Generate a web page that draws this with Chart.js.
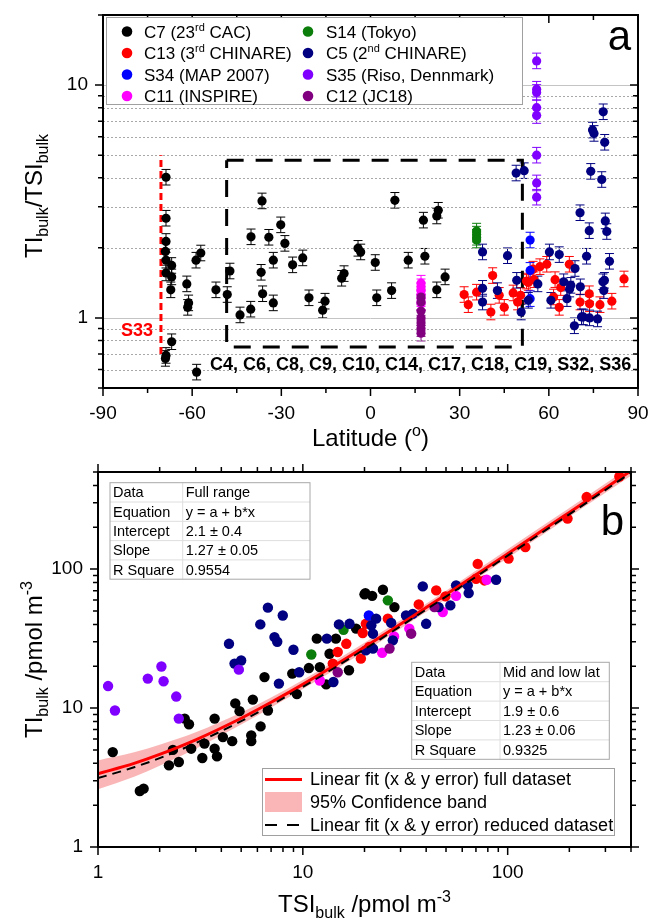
<!DOCTYPE html>
<html>
<head>
<meta charset="utf-8">
<script src="https://cdn.jsdelivr.net/npm/chart.js@4.4.1/dist/chart.umd.min.js"></script>
<style>
  html, body { margin: 0; padding: 0; background: #fff; }
  #wrap { position: relative; width: 651px; height: 919px; }
  canvas { position: absolute; left: 0; }
  #chartA { top: 0; }
  #chartB { top: 460px; }
</style>
</head>
<body>
<div id="wrap">
  <canvas id="chartA" width="651" height="460"></canvas>
  <canvas id="chartB" width="651" height="459"></canvas>
</div>
<script>
const FONT = '"Liberation Sans", Arial, Helvetica, sans-serif';
Chart.defaults.font.family = FONT;
Chart.defaults.color = '#000';

// ---------- panel a : TI/TSI ratio vs latitude ----------
const c7Lat = [-68.8,-68.8,-68.8,-69.0,-68.8,-68.8,-66.9,-66.9,-67.2,-66.9,-68.8,-69.0,-61.8,-61.2,-61.5,-58.7,-57.1,-58.5,-52.0,-48.2,-47.3,-43.9,-40.3,-40.2,-36.5,-36.8,-36.3,-34.2,-32.7,-32.7,-30.2,-28.8,-26.2,-22.8,-20.7,-16.1,-15.3,-9.7,-8.9,-4.2,-3.3,1.6,2.1,7.1,8.2,12.7,17.8,18.3,22.3,22.8,22.3,25.1];
const c7Ratio = [4.02,2.68,2.13,1.93,1.77,1.56,1.68,1.50,1.32,0.79,0.69,0.67,1.40,1.16,1.11,1.77,1.90,0.585,1.32,1.26,1.59,1.03,1.09,2.23,3.18,1.57,1.27,2.22,1.77,1.16,2.51,2.09,1.69,1.81,1.22,1.08,1.18,1.48,1.55,1.99,1.92,1.73,1.22,1.31,3.2,1.77,2.63,1.84,2.74,2.9,1.32,1.50];
const c13Lat = [31.5,32.9,35.7,40.5,41.1,43.3,45.0,48.0,49.5,50.5,52.5,53.1,54.7,55.0,57.0,59.3,61.6,62.1,63.5,64.0,66.9,70.5,73.6,73.7,77.2,81.2,85.3];
const c13Ratio = [1.26,1.14,1.29,1.06,1.52,1.25,1.11,1.28,1.17,1.25,1.44,1.42,1.62,1.46,1.66,1.70,1.23,1.46,1.11,1.35,1.70,1.17,1.27,1.15,1.14,1.18,1.47];
const s34Lat = [53.7,53.7,53.7];
const s34Ratio = [2.16,1.60,1.21];
const c11Lat = [17.0,17.0,17.0,17.0,17.0,17.0];
const c11Ratio = [1.41,1.36,1.31,1.26,1.21,1.16];
const s14Lat = [35.7,35.7,35.7,35.7];
const s14Ratio = [2.36,2.29,2.22,2.16];
const c5Lat = [37.7,37.7,37.7,42.7,46.1,49.0,51.7,49.2,50.7,53.1,56.3,60.2,63.5,60.7,65.0,66.1,67.0,67.4,68.8,68.6,70.5,70.6,71.0,71.6,72.7,73.6,73.7,76.4,74.1,77.8,79.0,79.5,80.4,78.2,78.7,78.5,78.3,74.7,75.2,78.8];
const c5Ratio = [1.92,1.34,1.17,1.31,1.85,4.19,4.29,1.45,1.06,1.19,1.40,1.92,1.87,1.19,1.43,1.21,1.33,1.38,1.63,0.925,2.83,1.36,1.01,1.01,1.84,2.37,1.00,0.99,4.26,3.93,2.61,2.35,1.75,1.43,1.45,1.31,7.68,6.41,6.2,5.68];
const s35Lat = [55.9,55.9,55.9,55.9,55.9,55.9,55.9,55.9];
const s35Ratio = [12.7,9.6,9.3,8.0,7.4,5.0,3.8,3.3];
const c12Lat = [17.0,17.0,17.0,17.0,17.0,17.0,17.0];
const c12Ratio = [1.23,1.17,1.07,1.00,0.95,0.90,0.86];

const s33Lat = [-70.5,-70.5];
const s33Ratio = [0.70,5.0];
const boxLat = [-48.4,51.1,51.1,-48.4,-48.4];
const boxRatio = [4.75,4.75,0.75,0.75,4.75];

const latTicks = [-90,-75,-60,-45,-30,-15,0,15,30,45,60,75,90];
const latLabels = [-90,-60,-30,0,30,60,90];
const ratioTicks = [0.5,0.6,0.7,0.8,0.9,1,2,3,4,5,6,7,8,9,10,20];
const ratioLabels = [1,10];

// ---------- panel b : TI vs TSI ----------
const c7Tsi = [1.18,1.6,1.67,2.22,2.32,2.48,2.65,2.78,2.85,3.23,3.31,3.71,3.81,3.71,4.07,4.52,4.68,4.91,5.6,5.6,5.7,6.22,6.75,6.5,8.88,9.35,10.7,11.7,12.1,13.5,13.0,14.5,16.8,18.2,20.0,20.2,21.8,24.6,28.0];
const c7Ti = [4.82,2.53,2.63,3.87,5.0,4.09,8.4,7.64,5.1,4.37,5.55,5.1,4.49,8.4,6.18,5.78,10.8,9.5,6.36,5.78,11.5,7.38,9.6,16.7,17.7,12.6,19.4,31.6,19.7,24.6,14.8,31.6,18.7,37.3,65.8,67.2,64.2,71.0,53.3];
const c13Tsi = [351,243,196,122,101,71.4,70.1,77,44.8,49.7,36.8,26,19.2,14.8,16.3,21.1,14,19.6,20.3];
const c13Ti = [464,330,231,144,119,109,85.3,82.9,70.3,63.7,55.7,44,22.7,25.3,29,27.5,20.9,34.7,40.4];
const s34Tsi = [21];
const s34Ti = [46.4];
const c11Tsi = [79,56,48.2,33.1,24.4,12.1,27.9];
const c11Ti = [83.9,64.2,49.1,37.3,25,15.8,32.8];
const s14Tsi = [11,15.8,26];
const s14Ti = [24.3,36.6,59.6];
const c5Tsi = [6.2,6.75,7.98,7.27,7.5,4.36,4.64,5.0,9.0,7.64,9.6,13.1,14.1,15,16.9,22,20.3,38.5,56,63.8,64.5,52.5,46,31.9,34.4,40,22.8,21.6,22,27,27.5,87.8];
const c5Ti = [40,52.8,46.4,32.4,30,29,20.9,22,26.3,15,18.1,31.6,15.4,40,40.4,26.8,26,75.1,76.4,76.4,67.2,54.8,53.3,46.4,47.6,40.4,44,39.4,34.3,41,30.7,83.9];
const s35Tsi = [1.12,1.21,1.75,2.04,2.09,2.41,2.48,4.87];
const s35Ti = [14.4,9.6,16.3,19.9,15.6,12.1,8.4,18.9];
const c12Tsi = [43.9,33.8,26.5,14.8];
const c12Ti = [53.3,34.3,26.8,18.1];

// fit lines and confidence band
const fitTsi = [1,1.5,2,3,5,7,10,20,50,100,200,400];
const fitFull = [3.37,4.0,4.64,5.91,8.45,11.0,14.8,27.5,65.6,129,256,510];
const fitReduced = [3.13,3.75,4.36,5.59,8.05,10.5,14.2,26.5,63.4,125,248,494];
const bandLo = [2.6,3.2,3.85,5.1,7.6,10.1,13.7,25.5,61,120,238,470];
const bandHi = [4.2,4.8,5.45,6.7,9.3,11.9,15.9,29.5,70,139,275,550];

const tsiTicks = [1,2,3,4,5,6,7,8,9,10,20,30,40,50,60,70,80,90,100,200,300,400];
const tiTicks = [1,2,3,4,5,6,7,8,9,10,20,30,40,50,60,70,80,90,100,200,300,400,500];
const logLabels = [1,10,100];

const tableFull = [['Data','Full range'],['Equation','y = a + b*x'],['Intercept','2.1 ± 0.4'],['Slope','1.27 ± 0.05'],['R Square','0.9554']];
const tableMid = [['Data','Mid and low lat'],['Equation','y = a + b*x'],['Intercept','1.9 ± 0.6'],['Slope','1.23 ± 0.06'],['R Square','0.9325']];

const COL = {
  c7: '#000000', c13: '#ff0000', s34: '#0000ff', c11: '#ff00ff',
  s14: '#0a7d0a', c5: '#000080', s35: '#8000ff', c12: '#800080'
};

const legendA = [
  ['C7 (23^rd^ CAC)', COL.c7], ['C13 (3^rd^ CHINARE)', COL.c13],
  ['S34 (MAP 2007)', COL.s34], ['C11 (INSPIRE)', COL.c11],
  ['S14 (Tokyo)', COL.s14], ['C5 (2^nd^ CHINARE)', COL.c5],
  ['S35 (Riso, Dennmark)', COL.s35], ['C12 (JC18)', COL.c12]
];

// ---------- helpers ----------
function fnt(size, weight) {
  return (weight ? weight + ' ' : '') + size + 'px ' + FONT;
}

// '^x^' = superscript, '~x~' = subscript
function drawRich(ctx, str, x, y, size, align, weight) {
  const parts = [];
  let mode = 'n', buf = '';
  for (const ch of str) {
    if (ch === '^' || ch === '~') {
      if (buf) parts.push({ t: buf, m: mode });
      buf = '';
      const m = ch === '^' ? 'sup' : 'sub';
      mode = mode === m ? 'n' : m;
    } else buf += ch;
  }
  if (buf) parts.push({ t: buf, m: mode });
  const small = Math.round(size * 0.66);
  let w = 0;
  parts.forEach(p => {
    ctx.font = fnt(p.m === 'n' ? size : small, weight);
    p.w = ctx.measureText(p.t).width;
    w += p.w;
  });
  let cx = align === 'center' ? x - w / 2 : align === 'right' ? x - w : x;
  ctx.textAlign = 'left';
  ctx.textBaseline = 'alphabetic';
  parts.forEach(p => {
    ctx.font = fnt(p.m === 'n' ? size : small, weight);
    const dy = p.m === 'sup' ? -size * 0.4 : p.m === 'sub' ? size * 0.25 : 0;
    ctx.fillText(p.t, cx, y + dy);
    cx += p.w;
  });
}

function points(label, xs, ys, color, r, ord) {
  return {
    label: label,
    data: xs.map((v, i) => ({ x: v, y: ys[i] })),
    backgroundColor: color, borderColor: color, borderWidth: 0,
    pointRadius: r, pointHoverRadius: r, order: ord, errBars: true
  };
}

function lineSet(label, xs, ys, color, width, dash, ord) {
  return {
    label: label,
    data: xs.map((v, i) => ({ x: v, y: ys[i] })),
    showLine: true, borderColor: color, borderWidth: width, borderDash: dash,
    pointRadius: 0, pointHoverRadius: 0, order: ord, fill: false
  };
}

function errorBars(rel, cap, horiz) {
  return {
    id: 'errbars',
    beforeDatasetsDraw(chart) {
      const { ctx, chartArea: a, scales: { x, y } } = chart;
      ctx.save();
      ctx.beginPath();
      ctx.rect(a.left, a.top, a.right - a.left, a.bottom - a.top);
      ctx.clip();
      ctx.lineWidth = 1;
      chart.data.datasets.forEach(ds => {
        if (!ds.errBars) return;
        ctx.strokeStyle = ds.borderColor;
        ctx.beginPath();
        ds.data.forEach(p => {
          const px = x.getPixelForValue(p.x), py = y.getPixelForValue(p.y);
          const yt = y.getPixelForValue(p.y * (1 + rel)), yb = y.getPixelForValue(p.y / (1 + rel));
          ctx.moveTo(px, yt); ctx.lineTo(px, yb);
          ctx.moveTo(px - cap, yt); ctx.lineTo(px + cap, yt);
          ctx.moveTo(px - cap, yb); ctx.lineTo(px + cap, yb);
          if (horiz) {
            const xl = x.getPixelForValue(p.x / (1 + rel)), xr = x.getPixelForValue(p.x * (1 + rel));
            ctx.moveTo(xl, py); ctx.lineTo(xr, py);
            ctx.moveTo(xl, py - cap); ctx.lineTo(xl, py + cap);
            ctx.moveTo(xr, py - cap); ctx.lineTo(xr, py + cap);
          }
        });
        ctx.stroke();
      });
      ctx.restore();
    }
  };
}

function drawFrame(chart, xTicks, xMajor, yTicks, yMajor, mirrorOut) {
  const { ctx, chartArea: a, scales: { x, y } } = chart;
  ctx.save();
  ctx.strokeStyle = '#000';
  ctx.lineWidth = 1.5;
  ctx.beginPath();
  xTicks.forEach(v => {
    const px = x.getPixelForValue(v);
    const len = xMajor.includes(v) ? 8 : 5;
    ctx.moveTo(px, a.bottom); ctx.lineTo(px, a.bottom + len);
    ctx.moveTo(px, a.top); ctx.lineTo(px, a.top + (mirrorOut ? -len : len));
  });
  yTicks.forEach(v => {
    const py = y.getPixelForValue(v);
    const len = yMajor.includes(v) ? 8 : 5;
    ctx.moveTo(a.left, py); ctx.lineTo(a.left - len, py);
    ctx.moveTo(a.right, py); ctx.lineTo(a.right + (mirrorOut ? len : -len), py);
  });
  ctx.stroke();
  ctx.lineWidth = 2;
  ctx.strokeRect(a.left, a.top, a.right - a.left, a.bottom - a.top);
  ctx.restore();
}

function drawTable(ctx, rows, x0, y0, w0, w1, rh) {
  const h = rh * rows.length;
  ctx.save();
  ctx.fillStyle = '#fff';
  ctx.fillRect(x0, y0, w0 + w1, h);
  ctx.strokeStyle = '#dedede';
  ctx.lineWidth = 1;
  ctx.beginPath();
  for (let i = 1; i < rows.length; i++) {
    ctx.moveTo(x0, y0 + i * rh); ctx.lineTo(x0 + w0 + w1, y0 + i * rh);
  }
  ctx.moveTo(x0 + w0, y0); ctx.lineTo(x0 + w0, y0 + h);
  ctx.stroke();
  ctx.strokeStyle = '#a8a8a8';
  ctx.strokeRect(x0, y0, w0 + w1, h);
  ctx.fillStyle = '#000';
  ctx.font = fnt(14.5);
  ctx.textAlign = 'left';
  ctx.textBaseline = 'middle';
  rows.forEach((r, i) => {
    ctx.fillText(r[0], x0 + 3, y0 + rh * (i + 0.5) + 1);
    ctx.fillText(r[1], x0 + w0 + 3, y0 + rh * (i + 0.5) + 1);
  });
  ctx.restore();
}

function tickOpts(labels, pad) {
  return {
    autoSkip: false, maxRotation: 0, minRotation: 0, padding: pad,
    font: { size: 19 }, color: '#000',
    callback: v => labels.includes(v) ? String(v) : ''
  };
}

// ---------- chart a ----------
const panelA = {
  id: 'panelA',
  beforeDatasetsDraw(chart) {
    const { ctx, chartArea: a, scales: { y } } = chart;
    ctx.save();
    ratioTicks.forEach(v => {
      if (v === 0.5 || v === 20) return;
      const py = Math.round(y.getPixelForValue(v)) + 0.5;
      ctx.beginPath();
      if (ratioLabels.includes(v)) {
        ctx.strokeStyle = '#c4c4c4'; ctx.setLineDash([]);
      } else {
        ctx.strokeStyle = '#a8a8a8'; ctx.setLineDash([2, 2]);
      }
      ctx.lineWidth = 1;
      ctx.moveTo(a.left, py); ctx.lineTo(a.right, py);
      ctx.stroke();
    });
    ctx.restore();
  },
  afterDraw(chart) {
    const { ctx, chartArea: a } = chart;
    drawFrame(chart, latTicks, latLabels, ratioTicks, ratioLabels, false);
    ctx.save();
    // legend
    ctx.fillStyle = '#fff';
    ctx.fillRect(106, 17, 417, 88);
    ctx.strokeStyle = '#a0a0a0';
    ctx.lineWidth = 1;
    ctx.strokeRect(106.5, 17.5, 416, 87);
    const rowsY = [31.5, 53, 74.5, 96];
    legendA.forEach((e, i) => {
      const col = Math.floor(i / 4), row = i % 4;
      const mx = col === 0 ? 127 : 308, tx = col === 0 ? 144 : 326;
      ctx.fillStyle = e[1];
      ctx.beginPath();
      ctx.arc(mx, rowsY[row], 5.3, 0, Math.PI * 2);
      ctx.fill();
      ctx.fillStyle = '#000';
      drawRich(ctx, e[0], tx, rowsY[row] + 6, 17, 'left');
    });
    // panel letter
    ctx.fillStyle = '#000';
    ctx.font = fnt(42);
    ctx.textAlign = 'right';
    ctx.textBaseline = 'alphabetic';
    ctx.fillText('a', 631, 50);
    // annotations
    ctx.fillStyle = '#ff0000';
    ctx.font = fnt(18, 'bold');
    ctx.textAlign = 'center';
    ctx.fillText('S33', 137, 336);
    ctx.fillStyle = '#000';
    ctx.textAlign = 'left';
    ctx.fillText('C4, C6, C8, C9, C10, C14, C17, C18, C19, S32, S36', 210, 370);
    // axis titles
    drawRich(ctx, 'Latitude (^o^)', (a.left + a.right) / 2, 446, 24, 'center');
    ctx.save();
    ctx.translate(42, 196);
    ctx.rotate(-Math.PI / 2);
    drawRich(ctx, 'TI~bulk~/TSI~bulk~', 0, 0, 24, 'center');
    ctx.restore();
    ctx.restore();
  }
};

const nA = 8;
new Chart(document.getElementById('chartA'), {
  type: 'scatter',
  data: {
    datasets: [
      lineSet('S33', s33Lat, s33Ratio, '#ff0000', 3, [7, 4], 21),
      lineSet('box', boxLat, boxRatio, '#000000', 3, [17, 12], 20),
      points('C7', c7Lat, c7Ratio, COL.c7, 4.6, nA),
      points('C13', c13Lat, c13Ratio, COL.c13, 4.6, nA - 1),
      points('S34', s34Lat, s34Ratio, COL.s34, 4.6, nA - 2),
      points('C11', c11Lat, c11Ratio, COL.c11, 4.6, nA - 3),
      points('S14', s14Lat, s14Ratio, COL.s14, 4.6, nA - 4),
      points('C5', c5Lat, c5Ratio, COL.c5, 4.6, nA - 5),
      points('S35', s35Lat, s35Ratio, COL.s35, 4.6, nA - 6),
      points('C12', c12Lat, c12Ratio, COL.c12, 4.6, nA - 7)
    ]
  },
  options: {
    responsive: false,
    animation: false,
    events: [],
    layout: { padding: { left: 0, right: 13, top: 15, bottom: 0 } },
    plugins: { legend: { display: false }, tooltip: { enabled: false } },
    scales: {
      x: {
        type: 'linear', min: -90, max: 90,
        afterBuildTicks: s => { s.ticks = latTicks.map(v => ({ value: v })); },
        afterFit: s => { s.height = 72; s.paddingLeft = 0; s.paddingRight = 0; },
        grid: { display: false, drawTicks: true, tickLength: 8 },
        border: { display: false },
        ticks: tickOpts(latLabels, 6)
      },
      y: {
        type: 'logarithmic', min: 0.5, max: 20,
        afterBuildTicks: s => { s.ticks = ratioTicks.map(v => ({ value: v })); },
        afterFit: s => { s.width = 103; s.paddingTop = 0; s.paddingBottom = 0; },
        grid: { display: false, drawTicks: true, tickLength: 8 },
        border: { display: false },
        ticks: tickOpts(ratioLabels, 7)
      }
    }
  },
  plugins: [errorBars(0.08, 4.5, false), panelA]
});

// ---------- chart b ----------
const panelB = {
  id: 'panelB',
  afterDraw(chart) {
    const { ctx, chartArea: a } = chart;
    drawFrame(chart, tsiTicks, logLabels, tiTicks, logLabels, true);
    drawTable(ctx, tableFull, 110, 22.7, 72.7, 127.3, 19.3);
    drawTable(ctx, tableMid, 411.7, 202.3, 88.3, 109.3, 19.4);
    ctx.save();
    // legend
    ctx.fillStyle = '#fff';
    ctx.fillRect(262, 308, 353, 68);
    ctx.strokeStyle = '#a0a0a0';
    ctx.lineWidth = 1;
    ctx.strokeRect(262.5, 308.5, 352, 67);
    const ly = [319.5, 342, 365];
    ctx.strokeStyle = '#ff0000';
    ctx.lineWidth = 3;
    ctx.beginPath(); ctx.moveTo(265, ly[0]); ctx.lineTo(302, ly[0]); ctx.stroke();
    ctx.fillStyle = 'rgba(245,110,110,0.5)';
    ctx.fillRect(265, ly[1] - 10, 37, 20);
    ctx.strokeStyle = '#000';
    ctx.lineWidth = 2;
    ctx.setLineDash([12, 10]);
    ctx.beginPath(); ctx.moveTo(265, ly[2]); ctx.lineTo(302, ly[2]); ctx.stroke();
    ctx.setLineDash([]);
    ctx.fillStyle = '#000';
    ctx.font = fnt(18);
    ctx.textAlign = 'left';
    ctx.textBaseline = 'middle';
    ctx.fillText('Linear fit (x & y error) full dataset', 310, ly[0] + 1);
    ctx.fillText('95% Confidence band', 310, ly[1] + 1);
    ctx.fillText('Linear fit (x & y error) reduced dataset', 310, ly[2] + 1);
    // panel letter
    ctx.font = fnt(42);
    ctx.textAlign = 'right';
    ctx.textBaseline = 'alphabetic';
    ctx.fillText('b', 624, 75);
    // axis titles
    drawRich(ctx, 'TSI~bulk~ /pmol m^-3^', (a.left + a.right) / 2, 452, 24, 'center');
    ctx.save();
    ctx.translate(42, (a.top + a.bottom) / 2);
    ctx.rotate(-Math.PI / 2);
    drawRich(ctx, 'TI~bulk~ /pmol m^-3^', 0, 0, 24, 'center');
    ctx.restore();
    ctx.restore();
  }
};

const band = lineSet('bandLo', fitTsi, bandLo, 'rgba(0,0,0,0)', 1, [], 30);
const bandTop = lineSet('bandHi', fitTsi, bandHi, 'rgba(0,0,0,0)', 1, [], 29);
bandTop.fill = '-1';
bandTop.backgroundColor = 'rgba(245,110,110,0.5)';
const fullLine = lineSet('full', fitTsi, fitFull, '#ff0000', 3, [], 1);
const redLine = lineSet('reduced', fitTsi, fitReduced, '#000000', 2, [9, 6], 0);
[band, bandTop, fullLine, redLine].forEach(d => { d.cubicInterpolationMode = 'monotone'; });

new Chart(document.getElementById('chartB'), {
  type: 'scatter',
  data: {
    datasets: [
      band, bandTop,
      points('C7', c7Tsi, c7Ti, COL.c7, 5.2, 18),
      points('C13', c13Tsi, c13Ti, COL.c13, 5.2, 17),
      points('S34', s34Tsi, s34Ti, COL.s34, 5.2, 16),
      points('C11', c11Tsi, c11Ti, COL.c11, 5.2, 15),
      points('S14', s14Tsi, s14Ti, COL.s14, 5.2, 14),
      points('C5', c5Tsi, c5Ti, COL.c5, 5.2, 13),
      points('S35', s35Tsi, s35Ti, COL.s35, 5.2, 12),
      points('C12', c12Tsi, c12Ti, COL.c12, 5.2, 11),
      fullLine, redLine
    ]
  },
  options: {
    responsive: false,
    animation: false,
    events: [],
    layout: { padding: { left: 0, right: 20, top: 12, bottom: 0 } },
    plugins: { legend: { display: false }, tooltip: { enabled: false } },
    scales: {
      x: {
        type: 'logarithmic', min: 1, max: 400,
        afterBuildTicks: s => { s.ticks = tsiTicks.map(v => ({ value: v })); },
        afterFit: s => { s.height = 72; s.paddingLeft = 0; s.paddingRight = 0; },
        grid: { display: false, drawTicks: true, tickLength: 8 },
        border: { display: false },
        ticks: tickOpts(logLabels, 6)
      },
      y: {
        type: 'logarithmic', min: 1, max: 500,
        afterBuildTicks: s => { s.ticks = tiTicks.map(v => ({ value: v })); },
        afterFit: s => { s.width = 98; s.paddingTop = 0; s.paddingBottom = 0; },
        grid: { display: false, drawTicks: true, tickLength: 8 },
        border: { display: false },
        ticks: tickOpts(logLabels, 7)
      }
    }
  },
  plugins: [errorBars(0.045, 2, true), panelB]
});
</script>
</body>
</html>
